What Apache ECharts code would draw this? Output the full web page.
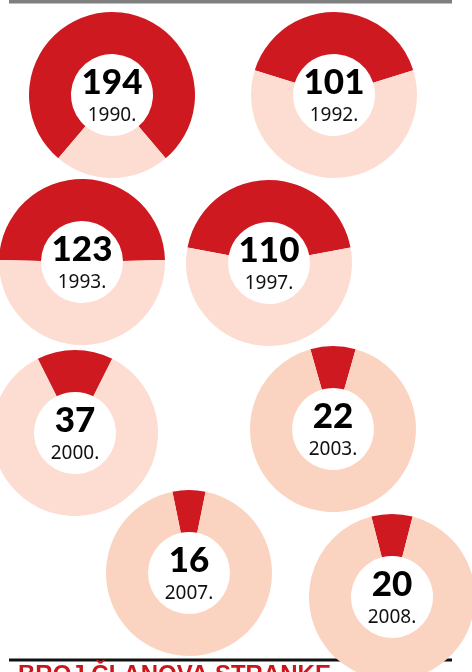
<!DOCTYPE html>
<html lang="hr">
<head>
    <meta charset="UTF-8">
    <title>Broj članova stranke</title>
    <script type="text/javascript" src="https://cdn.jsdelivr.net/npm/echarts@6/dist/echarts.min.js"></script>
    <style>
        html, body { margin: 0; padding: 0; background: #fff; }
    </style>
</head>
<body>
<div id="chart" style="width: 472px;height: 672px"></div>
</body>
</html>
<script type="text/javascript">
    // podaci
    var years = ['1990.', '1992.', '1993.', '1997.', '2000.', '2003.', '2007.', '2008.'];
    var members = [194, 101, 123, 110, 37, 22, 16, 20];
    var fullScale = 250;

    // raspored krugova (px)
    var centers = [[112, 95], [334, 95], [82, 262], [269, 263], [75, 433], [333, 429], [189, 573], [392, 597]];
    var restColors = ['#fddcd1', '#fddcd1', '#fddcd1', '#fddcd1', '#fddcd1', '#fbd3c1', '#fbd3c1', '#fbd3c1'];

    var myChart = echarts.init(document.getElementById('chart'));

    var series = [];
    for (var i = 0; i < members.length; i++) {
        var span = members[i] / fullScale * 360;
        series.push({
            type: 'pie',
            silent: true,
            animation: false,
            center: centers[i],
            radius: [41, 83],
            startAngle: 90 + span / 2,
            clockwise: true,
            z: 5,
            labelLine: {show: false},
            data: [
                {
                    value: members[i],
                    name: years[i],
                    itemStyle: {color: '#cf1920'},
                    label: {
                        show: true,
                        position: 'center',
                        formatter: '{n|' + members[i] + '}\n{y|' + years[i] + '}',
                        rich: {
                            n: {
                                fontFamily: 'Lato',
                                fontWeight: 900,
                                fontSize: 35,
                                color: '#000',
                                lineHeight: 42
                            },
                            y: {
                                fontFamily: 'Noto Sans',
                                fontSize: 19,
                                color: '#111',
                                lineHeight: 24
                            }
                        }
                    }
                },
                {
                    value: fullScale - members[i],
                    name: 'ostalo',
                    itemStyle: {color: restColors[i]},
                    label: {show: false}
                }
            ]
        });
    }

    var option = {
        backgroundColor: '#fff',
        graphic: [
            {
                type: 'rect',
                z: 0,
                shape: {x: 9, y: 0, width: 443, height: 3.5},
                style: {fill: '#7f7f7f'}
            },
            {
                type: 'rect',
                z: 0,
                shape: {x: 9, y: 658.5, width: 443, height: 3},
                style: {fill: '#111'}
            },
            {
                type: 'text',
                z: 0,
                x: 18,
                y: 663,
                style: {
                    text: 'BROJ ČLANOVA STRANKE',
                    fill: '#c8161d',
                    font: 'bold 24px "Liberation Sans"',
                    verticalAlign: 'top'
                }
            }
        ],
        series: series
    };
    myChart.setOption(option);
</script>
